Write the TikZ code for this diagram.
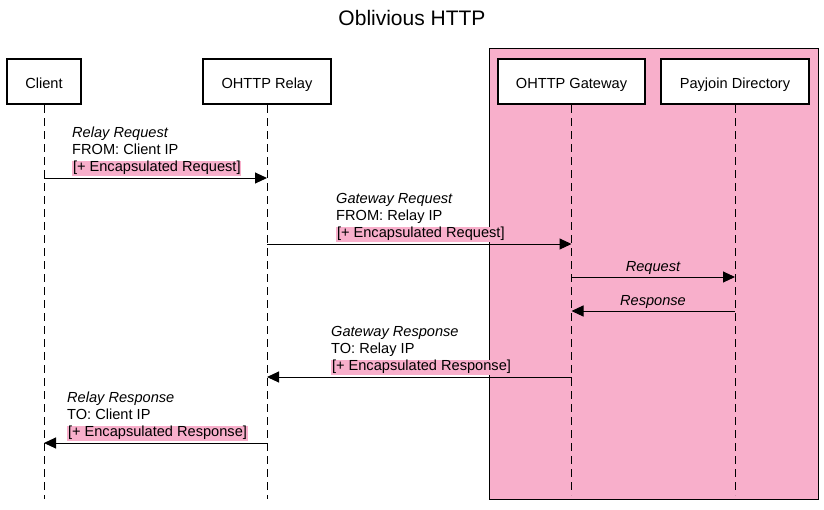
\documentclass[tikz,border=0pt]{standalone}
\usepackage{fontspec}
\setmainfont{Liberation Sans}
\usetikzlibrary{arrows.meta}
\definecolor{zonepink}{HTML}{F8AFCB}
\definecolor{hlpink}{HTML}{F8AFCB}
\newcommand{\hlline}[1]{{\setlength{\fboxsep}{0.8pt}\colorbox{hlpink}{#1}}}
\begin{document}
\begin{tikzpicture}[x=1pt,y=-1pt,
  actor/.style={draw,line width=2pt,fill=white,minimum width=#1,minimum height=45pt,inner sep=0pt,text height=13pt,text depth=0pt,font=\fontsize{14.6}{17}\selectfont},
  life/.style={line width=1pt,dash pattern=on 8pt off 5pt},
  msg/.style={line width=1pt,-{Triangle[length=12pt,width=11pt]}},
  lbl/.style={align=left,inner sep=0pt,font=\fontsize{14.6}{17}\selectfont},
  mlbl/.style={inner sep=0pt,font=\fontsize{14.6}{17}\selectfont\itshape}]
\useasboundingbox (0,0) rectangle (824,509);
\fill[white] (0,0) rectangle (824,509);
\node[font=\fontsize{21}{24}\selectfont] (title) at (412,18) {Oblivious HTTP};
\draw[fill=zonepink,line width=1pt] (489,48) rectangle (818,499);
\node[actor=74pt] (client) at (44,81.5) {Client};
\node[actor=128pt] (relay) at (267,81.5) {OHTTP Relay};
\node[actor=147pt] (gateway) at (571.5,81.5) {OHTTP Gateway};
\node[actor=148pt] (dir) at (735,81.5) {Payjoin Directory};
\coordinate (clientE) at (44,499);
\coordinate (relayE) at (267,499);
\coordinate (gatewayE) at (571.5,495);
\coordinate (dirE) at (735,495);
\draw[life] (client.south) -- (clientE);
\draw[life] (relay.south) -- (relayE);
\draw[life] (gateway.south) -- (gatewayE);
\draw[life] (dir.south) -- (dirE);
% messages
\coordinate (m1a) at (44,178); \coordinate (m1b) at (267,178);
\draw[msg] (m1a) -- (m1b);
\node[lbl,anchor=south west] (l1) at (72,176) {\textit{Relay Request}\\FROM: Client IP\\\hlline{[+ Encapsulated Request]}};
\coordinate (m2a) at (267,244); \coordinate (m2b) at (571.5,244);
\draw[msg] (m2a) -- (m2b);
\node[lbl,anchor=south west] (l2) at (336,242) {\textit{Gateway Request}\\FROM: Relay IP\\\hlline{[+ Encapsulated Request]}};
\coordinate (m3a) at (571.5,277); \coordinate (m3b) at (735,277);
\draw[msg] (m3a) -- (m3b);
\node[mlbl,anchor=base] (l3) at (653,271) {Request};
\coordinate (m4a) at (735,311); \coordinate (m4b) at (571.5,311);
\draw[msg] (m4a) -- (m4b);
\node[mlbl,anchor=base] (l4) at (653,305) {Response};
\coordinate (m5a) at (571.5,377); \coordinate (m5b) at (267,377);
\draw[msg] (m5a) -- (m5b);
\node[lbl,anchor=south west] (l5) at (331,375) {\textit{Gateway Response}\\TO: Relay IP\\\hlline{[+ Encapsulated Response]}};
\coordinate (m6a) at (267,443); \coordinate (m6b) at (44,443);
\draw[msg] (m6a) -- (m6b);
\node[lbl,anchor=south west] (l6) at (67,441) {\textit{Relay Response}\\TO: Client IP\\\hlline{[+ Encapsulated Response]}};
\end{tikzpicture}
\end{document}
